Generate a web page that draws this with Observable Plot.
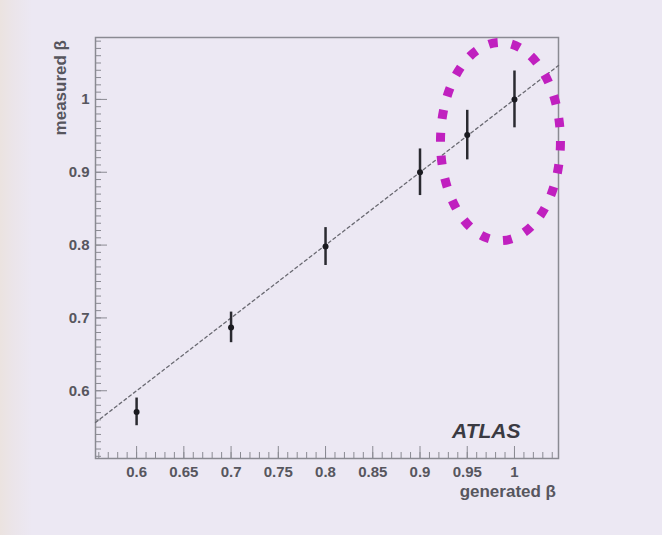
<!DOCTYPE html>
<html>
<head>
<meta charset="utf-8">
<script src="https://cdn.jsdelivr.net/npm/d3@7"></script>
<script src="https://cdn.jsdelivr.net/npm/@observablehq/plot@0.6"></script>
<style>
  html, body { margin: 0; padding: 0; background: #ece8f3; }
  #chart { width: 662px; height: 535px; }
</style>
</head>
<body>
<div id="chart"></div>
<script>
// Data
const generated = [0.6, 0.7, 0.8, 0.9, 0.95, 1.0];
const measured  = [0.571, 0.687, 0.798, 0.900, 0.951, 1.000];
const errors    = [0.019, 0.021, 0.026, 0.032, 0.034, 0.039];

const xTickValues = [0.6, 0.65, 0.7, 0.75, 0.8, 0.85, 0.9, 0.95, 1];
const xTickLabels = ["0.6", "0.65", "0.7", "0.75", "0.8", "0.85", "0.9", "0.95", "1"];
const yTickValues = [0.6, 0.7, 0.8, 0.9, 1];
const yTickLabels = ["0.6", "0.7", "0.8", "0.9", "1"];
const xMinor = d3.range(56, 105).map(d => d / 100);
const yMinor = d3.range(51, 109).map(d => d / 100);

const xDomain = [0.5565, 1.0466];
const yDomain = [0.507, 1.085];
const diagonal = [xDomain[0], xDomain[1]];

// highlight ellipse (annotation): centre and radii in data units
const ellipseCenter = [0.9857, 0.9415];
const ellipseRadii  = [0.0635, 0.136];

const points = generated.map((g, i) => ({g, m: measured[i], e: errors[i]}));
const diag = diagonal.map(v => ({g: v, m: v}));

const font = "Liberation Sans, Arial, sans-serif";
const grey = "#57565e";
const tickGrey = "#8a8a92";

const plot = Plot.plot({
  width: 662,
  height: 535,
  marginLeft: 95,
  marginRight: 104,
  marginTop: 37,
  marginBottom: 77,
  style: {background: "linear-gradient(to right, #ebe3e0 0px, #ebe5ea 14px, #ece8f3 32px)", fontFamily: font},
  x: {domain: xDomain, axis: null},
  y: {domain: yDomain, axis: null},
  marks: [
    Plot.frame({stroke: tickGrey, strokeWidth: 1.5}),
    // minor ticks (no labels), pointing into the frame
    Plot.axisX(xMinor, {anchor: "bottom", tickSize: -6, tickFormat: () => "", stroke: tickGrey, label: null}),
    Plot.axisY(yMinor, {anchor: "left", tickSize: -6, tickFormat: () => "", stroke: tickGrey, label: null}),
    // major ticks + labels
    Plot.axisX(xTickValues, {anchor: "bottom", tickSize: -12, tickPadding: 20, stroke: tickGrey,
      tickFormat: (d, i) => xTickLabels[i], fontSize: 15, fontWeight: "bold", fill: grey, label: null}),
    Plot.axisY(yTickValues, {anchor: "left", tickSize: -12, tickPadding: 18, stroke: tickGrey,
      tickFormat: (d, i) => yTickLabels[i], fontSize: 15, fontWeight: "bold", fill: grey, label: null}),
    // y = x dashed line
    Plot.line(diag, {x: "g", y: "m", stroke: "#6a6a72", strokeWidth: 1.3, strokeDasharray: "3,3"}),
    // error bars
    Plot.ruleX(points, {x: "g", y1: d => d.m - d.e, y2: d => d.m + d.e, stroke: "#2a2a30", strokeWidth: 2.5}),
    Plot.dot(points, {x: "g", y: "m", r: 3, fill: "#1a1a20", stroke: "none"}),
    // labels
    Plot.text(["ATLAS"], {frameAnchor: "bottom-right", dx: -38, dy: -21, fontSize: 21,
      fontWeight: "bold", fontStyle: "italic", fill: "#3a3a42", letterSpacing: "1px"}),
  ]
});

const svg = d3.select(plot);
const sx = plot.scale("x"), sy = plot.scale("y");

// axis titles
svg.append("text")
  .attr("transform", "translate(66,40) rotate(-90)")
  .attr("text-anchor", "end")
  .attr("font-family", font).attr("font-size", 17).attr("font-weight", "bold")
  .attr("fill", grey)
  .text("measured β");
svg.append("text")
  .attr("x", 556).attr("y", 497)
  .attr("text-anchor", "end")
  .attr("font-family", font).attr("font-size", 17).attr("font-weight", "bold")
  .attr("fill", grey)
  .text("generated β");

// dotted magenta ellipse
const cx = sx.apply(ellipseCenter[0]), cy = sy.apply(ellipseCenter[1]);
const rx = Math.abs(sx.apply(ellipseCenter[0] + ellipseRadii[0]) - cx);
const ry = Math.abs(sy.apply(ellipseCenter[1] + ellipseRadii[1]) - cy);
svg.append("ellipse")
  .attr("cx", cx).attr("cy", cy).attr("rx", rx).attr("ry", ry)
  .attr("fill", "none").attr("stroke", "#c020bf").attr("stroke-width", 9)
  .attr("stroke-dasharray", "9 14");

document.getElementById("chart").appendChild(plot);
</script>
</body>
</html>
